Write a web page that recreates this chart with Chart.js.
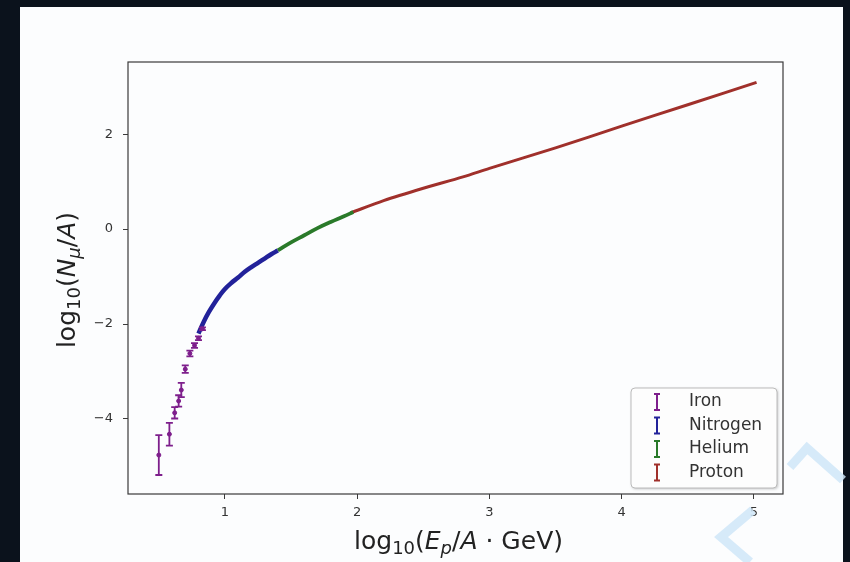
<!DOCTYPE html>
<html>
<head>
<meta charset="utf-8">
<script src="https://cdn.jsdelivr.net/npm/chart.js@4/dist/chart.umd.min.js"></script>
<style>
  html, body { margin: 0; padding: 0; background: #0b121c; }
  #wrap { position: relative; width: 850px; height: 562px; overflow: hidden; }
  #paper { position: absolute; left: 20px; top: 7px; width: 823px; height: 555px; background: #fcfdfe; }
  #c { position: absolute; left: 0; top: 0; }
  #mark { position: absolute; left: 0; top: 0; pointer-events: none; }
</style>
</head>
<body>
<div id="wrap">
  <div id="paper"></div>
  <canvas id="c" width="850" height="562"></canvas>
  <svg id="mark" width="850" height="562">
    <polyline points="790,467 807,448 843,480" fill="none" stroke="#cfe6f8" stroke-width="9" opacity="0.85"/>
    <polyline points="753,510 721,537 750,562" fill="none" stroke="#cfe6f8" stroke-width="9" opacity="0.85"/>
  </svg>
</div>
<script>
// values
const IRON_X = [0.50, 0.58, 0.62, 0.65, 0.67, 0.70, 0.735, 0.77, 0.80, 0.83];
const IRON_Y = [-4.76, -4.32, -3.87, -3.62, -3.39, -2.95, -2.62, -2.45, -2.30, -2.10];
const IRON_ERR = [0.42, 0.24, 0.12, 0.12, 0.15, 0.08, 0.06, 0.05, 0.04, 0.03];

const NITRO_X = [0.80, 0.84, 0.88, 0.92, 0.96, 1.00, 1.05, 1.10, 1.15, 1.20, 1.25, 1.30, 1.35, 1.40];
const NITRO_Y = [-2.20, -1.95, -1.74, -1.56, -1.40, -1.26, -1.13, -1.02, -0.90, -0.80, -0.71, -0.62, -0.53, -0.45];

const HELIUM_X = [1.40, 1.50, 1.60, 1.70, 1.80, 1.90, 1.97];
const HELIUM_Y = [-0.45, -0.28, -0.13, 0.02, 0.15, 0.27, 0.36];

const PROTON_X = [1.95, 2.2, 2.5, 2.8, 3.0, 3.5, 4.0, 4.5, 5.02];
const PROTON_Y = [0.34, 0.60, 0.86, 1.10, 1.28, 1.71, 2.17, 2.62, 3.09];

const X_TICKS = [1, 2, 3, 4, 5];
const Y_TICKS = [-4, -2, 0, 2];

const FONT = '"DejaVu Sans", sans-serif';

const pts = (xs, ys) => xs.map((x, i) => ({ x: x, y: ys[i] }));

// matplotlib-ish error bars with caps
const errorBars = {
  id: 'errorBars',
  afterDatasetsDraw(chart) {
    const { ctx, scales: { x, y } } = chart;
    chart.data.datasets.forEach(ds => {
      if (!ds.errors) return;
      ctx.save();
      ctx.strokeStyle = ds.borderColor;
      ctx.lineWidth = 1.8;
      ds.data.forEach((p, j) => {
        const px = x.getPixelForValue(p.x);
        const top = y.getPixelForValue(p.y + ds.errors[j]);
        const bot = y.getPixelForValue(p.y - ds.errors[j]);
        ctx.beginPath();
        ctx.moveTo(px, top); ctx.lineTo(px, bot);
        ctx.moveTo(px - 3.5, top); ctx.lineTo(px + 3.5, top);
        ctx.moveTo(px - 3.5, bot); ctx.lineTo(px + 3.5, bot);
        ctx.stroke();
      });
      ctx.restore();
    });
  }
};

// text with sub/italic parts, centred on (cx, cy)
function drawRich(ctx, segs, cx, cy, size) {
  const sub = Math.round(size * 0.7);
  const font = s => (s.it ? 'italic ' : '') + (s.sub ? sub : size) + 'px ' + FONT;
  let w = 0;
  segs.forEach(s => { ctx.font = font(s); w += ctx.measureText(s.t).width; });
  let x = cx - w / 2;
  ctx.textBaseline = 'middle';
  ctx.textAlign = 'left';
  segs.forEach(s => {
    ctx.font = font(s);
    ctx.fillText(s.t, x, cy + (s.sub ? size * 0.28 : 0));
    x += ctx.measureText(s.t).width;
  });
}

// box around plot + axis titles + legend
const frame = {
  id: 'frame',
  afterDraw(chart) {
    const { ctx, chartArea: a } = chart;
    ctx.save();
    ctx.strokeStyle = '#3a3a3a';
    ctx.lineWidth = 1.2;
    ctx.strokeRect(a.left, a.top, a.right - a.left, a.bottom - a.top);

    ctx.fillStyle = '#222';
    drawRich(ctx, [
      { t: 'log' }, { t: '10', sub: true }, { t: '(' }, { t: 'E', it: true },
      { t: 'p', it: true, sub: true }, { t: '/' }, { t: 'A', it: true }, { t: ' · GeV)' }
    ], (a.left + a.right) / 2 + 3, 542, 25);

    ctx.save();
    ctx.translate(68, (a.top + a.bottom) / 2 + 2);
    ctx.rotate(-Math.PI / 2);
    drawRich(ctx, [
      { t: 'log' }, { t: '10', sub: true }, { t: '(' }, { t: 'N', it: true },
      { t: 'μ', it: true, sub: true }, { t: '/' }, { t: 'A', it: true }, { t: ')' }
    ], 0, 0, 25);
    ctx.restore();

    // legend, lower right inside the axes
    const bx = 631, by = 388, bw = 146, bh = 100;
    ctx.shadowColor = 'rgba(0,0,0,0.25)';
    ctx.shadowBlur = 3;
    ctx.shadowOffsetX = 1; ctx.shadowOffsetY = 1;
    ctx.fillStyle = '#fdfdfd';
    ctx.beginPath();
    ctx.roundRect(bx, by, bw, bh, 4);
    ctx.fill();
    ctx.shadowColor = 'transparent';
    ctx.strokeStyle = '#bbb';
    ctx.lineWidth = 1;
    ctx.stroke();
    chart.data.datasets.forEach((ds, i) => {
      const ry = by + 14 + i * 23.5;
      ctx.strokeStyle = ds.borderColor;
      ctx.lineWidth = 2;
      ctx.beginPath();
      ctx.moveTo(657, ry - 8); ctx.lineTo(657, ry + 8);
      ctx.moveTo(654, ry - 8); ctx.lineTo(660, ry - 8);
      ctx.moveTo(654, ry + 8); ctx.lineTo(660, ry + 8);
      ctx.stroke();
      ctx.fillStyle = '#333';
      ctx.font = '17px ' + FONT;
      ctx.textAlign = 'left';
      ctx.textBaseline = 'middle';
      ctx.fillText(ds.label, 689, ry);
    });
    ctx.restore();
  }
};

const tickCommon = { color: '#333', font: { family: FONT, size: 13 } };

new Chart(document.getElementById('c'), {
  type: 'scatter',
  data: {
    datasets: [
      { label: 'Iron', data: pts(IRON_X, IRON_Y), errors: IRON_ERR, borderColor: '#7e1f8c', backgroundColor: '#7e1f8c',
        pointRadius: 2, showLine: false },
      { label: 'Nitrogen', data: pts(NITRO_X, NITRO_Y), borderColor: '#22229a', backgroundColor: '#22229a',
        pointRadius: 0, showLine: true, borderWidth: 4.5, tension: 0.4 },
      { label: 'Helium', data: pts(HELIUM_X, HELIUM_Y), borderColor: '#2a7a2a', backgroundColor: '#2a7a2a',
        pointRadius: 0, showLine: true, borderWidth: 3.8, tension: 0.4 },
      { label: 'Proton', data: pts(PROTON_X, PROTON_Y), borderColor: '#a0302b', backgroundColor: '#a0302b',
        pointRadius: 0, showLine: true, borderWidth: 3, tension: 0.3 }
    ]
  },
  options: {
    responsive: false,
    animation: false,
    layout: { padding: { left: 0, top: 62, right: 67, bottom: 0 } },
    plugins: { legend: { display: false }, tooltip: { enabled: false } },
    scales: {
      x: {
        type: 'linear', min: 0.267, max: 5.22,
        afterBuildTicks: s => { s.ticks = X_TICKS.map(v => ({ value: v })); },
        afterFit: s => { s.height = 68; },
        grid: { display: true, drawOnChartArea: false, drawTicks: true, tickLength: 5, color: '#3a3a3a' },
        border: { display: false },
        ticks: Object.assign({ padding: 6 }, tickCommon)
      },
      y: {
        type: 'linear', min: -5.58, max: 3.52,
        afterBuildTicks: s => { s.ticks = Y_TICKS.map(v => ({ value: v })); },
        afterFit: s => { s.width = 128; },
        grid: { display: true, drawOnChartArea: false, drawTicks: true, tickLength: 5, color: '#3a3a3a' },
        border: { display: false },
        ticks: Object.assign({ padding: 10, callback: v => String(v).replace('-', '−') }, tickCommon)
      }
    }
  },
  plugins: [errorBars, frame]
});
</script>
</body>
</html>
